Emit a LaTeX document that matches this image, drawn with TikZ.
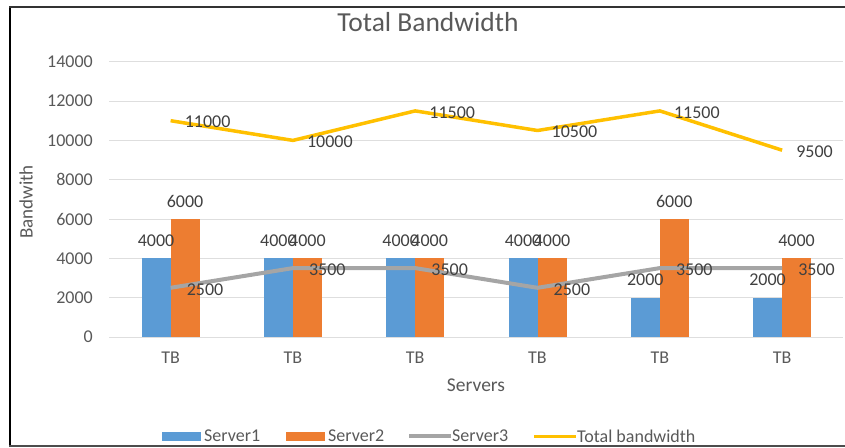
\documentclass[tikz,border=0pt]{standalone}
\usepackage{fontspec}
\setmainfont{Carlito}
\definecolor{sone}{HTML}{5B9BD5}
\definecolor{stwo}{HTML}{ED7D31}
\definecolor{sthree}{HTML}{A5A5A5}
\definecolor{stot}{HTML}{FFC000}
\definecolor{txt}{HTML}{595959}
\definecolor{dtxt}{HTML}{404040}
\definecolor{grid}{HTML}{DEDEDE}
\tikzset{
  ticklbl/.style={font=\fontsize{18}{20}\selectfont, text=txt, inner sep=0pt},
  datalbl/.style={font=\fontsize{18}{20}\selectfont, text=dtxt, inner sep=0pt},
  gridline/.style={draw=grid, line width=0.9pt},
  barone/.style={fill=sone},
  bartwo/.style={fill=stwo},
  lineS/.style={draw=sthree, line width=4pt, line join=round},
  lineT/.style={draw=stot, line width=3.5pt, line join=round},
}
\begin{document}
\begin{tikzpicture}[x=1pt,y=-1pt]
\useasboundingbox (0,0) rectangle (845,447);
% frame
\draw[line width=2pt, black] (10,6) -- (10,447);
\draw[line width=1.8pt, black!80] (9,7) -- (845,7);
\draw[line width=1.5pt, black!70] (9,446) -- (845,446);
% title
\node[font=\fontsize{27.5}{30}\selectfont, text=txt, inner sep=0pt] (title) at (428,22) {Total Bandwidth};
% gridlines and ticks
\foreach \v [count=\i] in {0,2000,4000,6000,8000,10000,12000,14000}{
  \pgfmathsetmacro{\yy}{337-\v*0.019664}
  \draw[gridline] (109,\yy) -- (843,\yy);
  \node[ticklbl, anchor=east] (tick\i) at (93,\yy) {\v};
}
% axis titles
\node[font=\fontsize{19}{22}\selectfont, text=txt, rotate=90, inner sep=0pt] (ytitle) at (26,202) {Bandwith};
\node[font=\fontsize{19.5}{22}\selectfont, text=txt, inner sep=0pt] (xtitle) at (476,385) {Servers};
% data
\def\sone{{4000,4000,4000,4000,2000,2000}}
\def\stwo{{6000,4000,4000,4000,6000,4000}}
\def\sthr{{2500,3500,3500,2500,3500,3500}}
\def\stot{{11000,10000,11500,10500,11500,9500}}
\foreach \k in {0,...,5}{
  \pgfmathsetmacro{\cx}{170.6+122.3*\k}
  \pgfmathsetmacro{\va}{\sone[\k]}
  \pgfmathsetmacro{\vb}{\stwo[\k]}
  \pgfmathsetmacro{\ya}{337-\va*0.019664}
  \pgfmathsetmacro{\yb}{337-\vb*0.019664}
  \fill[barone] (\cx-29,337) rectangle (\cx,\ya);
  \fill[bartwo] (\cx,337) rectangle (\cx+29,\yb);
  \node[ticklbl] (cat\k) at (\cx,358) {TB};
}
% lines
\draw[lineS] (170.6,287.8) -- (292.9,268.1) -- (415.2,268.1) -- (537.5,287.8) -- (659.8,268.1) -- (782.1,268.1);
\draw[lineT] (170.6,120.7) -- (292.9,140.4) -- (415.2,110.9) -- (537.5,130.5) -- (659.8,110.9) -- (782.1,150.2);
% bar labels
\foreach \k in {0,...,5}{
  \pgfmathsetmacro{\cx}{170.6+122.3*\k}
  \pgfmathtruncatemacro{\va}{\sone[\k]}
  \pgfmathtruncatemacro{\vb}{\stwo[\k]}
  \pgfmathsetmacro{\ya}{337-\va*0.019664-17.7}
  \pgfmathsetmacro{\yb}{337-\vb*0.019664-17.7}
  \node[datalbl] (la\k) at (\cx-14.5,\ya) {\va};
  \node[datalbl] (lb\k) at (\cx+14.5,\yb) {\vb};
  \pgfmathtruncatemacro{\vc}{\sthr[\k]}
  \pgfmathtruncatemacro{\vd}{\stot[\k]}
  \pgfmathsetmacro{\yc}{337-\vc*0.019664+1.5}
  \pgfmathsetmacro{\yd}{337-\vd*0.019664+1.5}
  \node[datalbl, anchor=west] (lc\k) at (\cx+16,\yc) {\vc};
  \node[datalbl, anchor=west] (ld\k) at (\cx+14,\yd) {\vd};
}
% legend
\fill[sone] (162,431.5) rectangle (201,440.5);
\node[ticklbl, anchor=west] (leg1) at (204,436) {Server1};
\fill[stwo] (286,431.5) rectangle (325,440.5);
\node[ticklbl, anchor=west] (leg2) at (328,436) {Server2};
\draw[lineS, line width=3.5pt] (409,436) -- (451,436);
\node[ticklbl, anchor=west] (leg3) at (452,436) {Server3};
\draw[lineT, line width=3pt] (534,436) -- (576,436);
\node[ticklbl, anchor=west] (leg4) at (577,436) {Total bandwidth};
\end{tikzpicture}
\end{document}
